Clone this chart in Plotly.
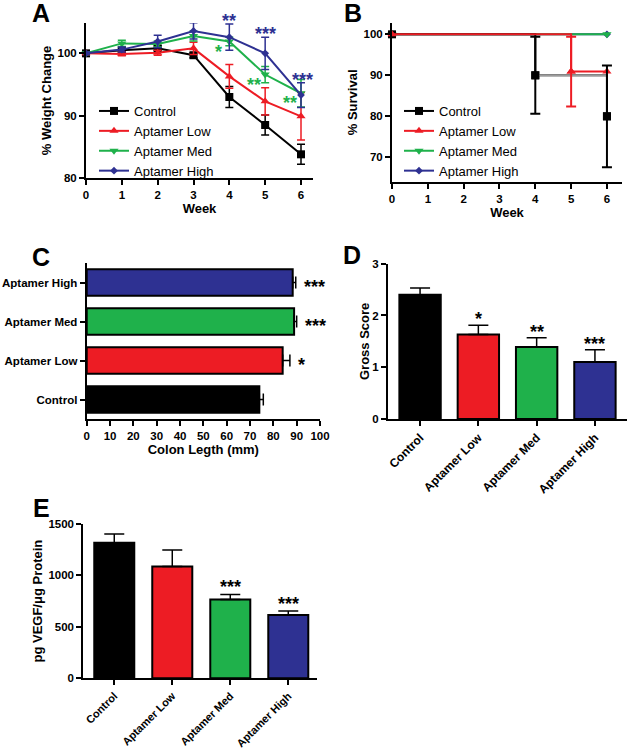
import plotly.graph_objects as go

W, H = 627, 750
FONT = "Liberation Sans, Arial, sans-serif"
BLACK = "#000000"
RED = "#ED1C24"
GREEN = "#1FB14B"
BLUE = "#2E3192"
GRAY = "#9B9B9B"

# ---------------- data ----------------
groups = ["Control", "Aptamer Low", "Aptamer Med", "Aptamer High"]
colors = [BLACK, RED, GREEN, BLUE]
symbols = ["square", "triangle-up", "triangle-down", "diamond"]
msizes = [8, 8, 8, 6]

# Panel A: % weight change
weeks = [0, 1, 2, 3, 4, 5, 6]
wt_control = [100.0, 100.5, 100.8, 99.7, 93.0, 88.5, 83.8]
wt_control_err = [0.2, 0.3, 0.4, 0.4, 1.7, 1.6, 1.6]
wt_low = [100.0, 99.9, 100.1, 100.8, 96.3, 92.3, 89.9]
wt_low_err = [0.2, 0.3, 0.4, 1.0, 1.9, 2.2, 3.8]
wt_med = [100.0, 101.6, 101.5, 102.8, 101.9, 96.6, 93.6]
wt_med_err = [0.2, 0.5, 0.5, 0.8, 0.7, 1.3, 2.2]
wt_high = [100.0, 100.6, 101.9, 103.6, 102.6, 100.0, 93.3]
wt_high_err = [0.2, 0.4, 1.0, 1.3, 2.1, 2.6, 2.0]
wt_med_stars = ["", "", "", "", "*", "**", "**"]
wt_high_stars = ["", "", "", "", "**", "***", "***"]

# Panel B: % survival (Kaplan-Meier steps)
surv_control_wk = [0, 4, 6]
surv_control = [100, 90, 80]
surv_control_err = [0, 9.4, 12.4]
surv_low_wk = [0, 5, 6]
surv_low = [100, 90.9, 90.9]
surv_low_err = [0, 8.5, 0]
surv_med_wk = [0, 6]
surv_med = [100, 100]
surv_high_wk = [0, 6]
surv_high = [100, 100]

# Panel C: colon length (mm)
colon = [74.0, 84.0, 88.9, 88.3]
colon_err = [1.7, 3.1, 1.1, 1.3]
colon_stars = ["", "*", "***", "***"]

# Panel D: gross score
gross = [2.40, 1.63, 1.39, 1.10]
gross_err = [0.13, 0.18, 0.18, 0.24]
gross_stars = ["", "*", "**", "***"]

# Panel E: VEGF
vegf = [1318, 1088, 766, 616]
vegf_err = [85, 159, 49, 39]
vegf_stars = ["", "", "***", "***"]


def px(p):
    return p / W


def py(p):
    return 1 - p / H


TICKFONT = dict(family=FONT, size=11.5, color="black", weight="bold")
ROTFONT_D = dict(family=FONT, size=12, color="black", weight="bold")
ROTFONT_E = dict(family=FONT, size=11, color="black", weight="bold")
TITLEFONT = dict(family=FONT, size=13, color="black", weight="bold")


def axis(domain, rng, anchor, title=None, standoff=None, **kw):
    d = dict(domain=domain, range=rng, anchor=anchor, showline=True, linewidth=2,
             linecolor="black", ticks="outside", ticklen=5, tickwidth=2,
             tickcolor="black", showgrid=False, zeroline=False, tickfont=TICKFONT,
             fixedrange=True, automargin=False)
    if title:
        t = dict(text=title, font=TITLEFONT)
        if standoff is not None:
            t["standoff"] = standoff
        d["title"] = t
    d.update(kw)
    return d


fig = go.Figure()

# ---------------- Panel A ----------------
wt_series = [(wt_control, wt_control_err), (wt_low, wt_low_err),
             (wt_med, wt_med_err), (wt_high, wt_high_err)]
for i, (vals, errs) in enumerate(wt_series):
    fig.add_trace(go.Scatter(
        x=weeks, y=vals, mode="lines+markers", name=groups[i],
        line=dict(color=colors[i], width=2),
        marker=dict(symbol=symbols[i], size=msizes[i], color=colors[i]),
        error_y=dict(type="data", array=errs, color=colors[i], thickness=1.5, width=4),
        xaxis="x", yaxis="y", legend="legend", legendrank=i + 1, cliponaxis=False))

# ---------------- Panel B ----------------
surv = [(surv_control_wk, surv_control), (surv_low_wk, surv_low),
        (surv_med_wk, surv_med), (surv_high_wk, surv_high)]
draw_order = [3, 2, 0, 1]
for i in draw_order:
    xs, ys = surv[i]
    fig.add_trace(go.Scatter(
        x=xs, y=ys, mode="lines+markers", name=groups[i], line_shape="hv",
        line=dict(color=colors[i], width=2),
        marker=dict(symbol=symbols[i], size=msizes[i], color=colors[i]),
        xaxis="x2", yaxis="y2", legend="legend2", legendrank=i + 1, cliponaxis=False))
    if i == 0:
        # censored plateau of control group drawn in grey
        fig.add_trace(go.Scatter(
            x=surv_control_wk[1:], y=[surv_control[1]] * 2, mode="lines",
            line=dict(color=GRAY, width=2), showlegend=False,
            xaxis="x2", yaxis="y2", hoverinfo="skip"))

for wk, vals, errs, col, sym in [(surv_control_wk, surv_control, surv_control_err, BLACK, "square"),
                                 (surv_low_wk, surv_low, surv_low_err, RED, "triangle-up")]:
    idx = [k for k, e in enumerate(errs) if e > 0]
    fig.add_trace(go.Scatter(
        x=[wk[k] for k in idx], y=[vals[k] for k in idx], mode="markers",
        marker=dict(symbol=sym, size=8, color=col),
        error_y=dict(type="data", array=[errs[k] for k in idx], color=col,
                     thickness=2, width=5),
        showlegend=False, xaxis="x2", yaxis="y2", cliponaxis=False))

# ---------------- Panel C ----------------
fig.add_trace(go.Bar(
    x=colon, y=groups, orientation="h", width=0.68,
    marker=dict(color=colors, line=dict(color="black", width=2)),
    error_x=dict(type="data", array=colon_err, arrayminus=[0] * 4, symmetric=False,
                 color="black", thickness=1.5, width=6),
    showlegend=False, xaxis="x3", yaxis="y3"))

# ---------------- Panel D ----------------
fig.add_trace(go.Bar(
    x=groups, y=gross, width=0.71,
    marker=dict(color=colors, line=dict(color="black", width=2)),
    error_y=dict(type="data", array=gross_err, arrayminus=[0] * 4, symmetric=False,
                 color="black", thickness=1.5, width=10),
    showlegend=False, xaxis="x4", yaxis="y4"))

# ---------------- Panel E ----------------
fig.add_trace(go.Bar(
    x=groups, y=vegf, width=0.69,
    marker=dict(color=colors, line=dict(color="black", width=2)),
    error_y=dict(type="data", array=vegf_err, arrayminus=[0] * 4, symmetric=False,
                 color="black", thickness=1.5, width=10),
    showlegend=False, xaxis="x5", yaxis="y5"))

# ---------------- annotations ----------------
ann = []
STAR = 18
G = 4  # glyph centre sits above text-box centre


def star(x, y, text, color, xr, yr, shift=0, xanchor="center"):
    ann.append(dict(x=x, y=y, xref=xr, yref=yr, text=text, showarrow=False,
                    xanchor=xanchor, yanchor="middle", yshift=shift - G,
                    font=dict(family=FONT, size=STAR, color=color, weight="bold")))


for k, s in enumerate(wt_high_stars):
    if s:
        star(weeks[k] + (0.03 if k == 6 else 0), wt_high[k] + wt_high_err[k], s, BLUE,
             "x", "y", shift=7)
for k, s in enumerate(wt_med_stars):
    if s:
        star(weeks[k] - 0.3, wt_med[k] - 1.0, s, GREEN, "x", "y")

for k, s in enumerate(colon_stars):
    if s:
        ann.append(dict(x=colon[k] + colon_err[k], y=groups[k], xref="x3", yref="y3",
                        text=s, showarrow=False, xanchor="left", yanchor="middle",
                        xshift=6, yshift=-G,
                        font=dict(family=FONT, size=STAR, color="black", weight="bold")))
for k, s in enumerate(gross_stars):
    if s:
        star(groups[k], gross[k] + gross_err[k], s, "black", "x4", "y4", shift=10)
for k, s in enumerate(vegf_stars):
    if s:
        star(groups[k], vegf[k] + vegf_err[k], s, "black", "x5", "y5", shift=11)

for letter, xp, yp in [("A", 41, 13), ("B", 353, 13), ("C", 41, 257),
                       ("D", 352, 255), ("E", 41, 508)]:
    ann.append(dict(x=px(xp), y=py(yp), xref="paper", yref="paper", text=letter,
                    showarrow=False, xanchor="center", yanchor="middle",
                    font=dict(family=FONT, size=25, color="black", weight="bold")))

LEGFONT = dict(family=FONT, size=13, color="black")

fig.update_layout(
    width=W, height=H, margin=dict(l=0, r=0, t=0, b=0),
    paper_bgcolor="white", plot_bgcolor="white", barmode="overlay",
    showlegend=True, annotations=ann,
    legend=dict(x=px(94), y=py(96), xanchor="left", yanchor="top",
                bgcolor="rgba(0,0,0,0)", font=LEGFONT, tracegroupgap=0),
    legend2=dict(x=px(399), y=py(96), xanchor="left", yanchor="top",
                 bgcolor="rgba(0,0,0,0)", font=LEGFONT, tracegroupgap=0),
    xaxis=axis([px(86), px(313)], [0, 6.335], "y", "Week", standoff=4, dtick=1),
    yaxis=axis([py(178), py(23)], [80, 104.87], "x", "% Weight Change", standoff=3,
               tickvals=[80, 90, 100]),
    xaxis2=axis([px(392), px(622)], [0, 6.42], "y2", "Week", standoff=4, dtick=1),
    yaxis2=axis([py(181.7), py(23)], [64.05, 102.76], "x2", "% Survival", standoff=3,
                tickvals=[70, 80, 90, 100]),
    xaxis3=axis([px(86.7), px(320)], [0, 100], "y3", "Colon Legth (mm)", standoff=4,
                dtick=10),
    yaxis3=axis([py(419), py(263)], [-0.5, 3.5], "x3", type="category",
                categoryorder="array", categoryarray=groups),
    xaxis4=axis([px(388), 1.0], [-0.55, 3.55], "y4", type="category",
                categoryorder="array", categoryarray=groups, tickangle=-45,
                tickfont=ROTFONT_D),
    yaxis4=axis([py(419), py(263.7)], [0, 3], "x4", "Gross Score", standoff=0,
                tickvals=[0, 1, 2, 3]),
    xaxis5=axis([px(83.3), px(316.7)], [-0.534, 3.49], "y5", type="category",
                categoryorder="array", categoryarray=groups, tickangle=-45,
                tickfont=ROTFONT_E),
    yaxis5=axis([py(678.3), py(524)], [0, 1500], "x5", "pg VEGF/μg Protein",
                standoff=3, tickvals=[0, 500, 1000, 1500]),
)

fig.write_html("out.html", config={"displayModeBar": False},
               post_script="document.body.style.margin='0';document.body.style.padding='0';")
